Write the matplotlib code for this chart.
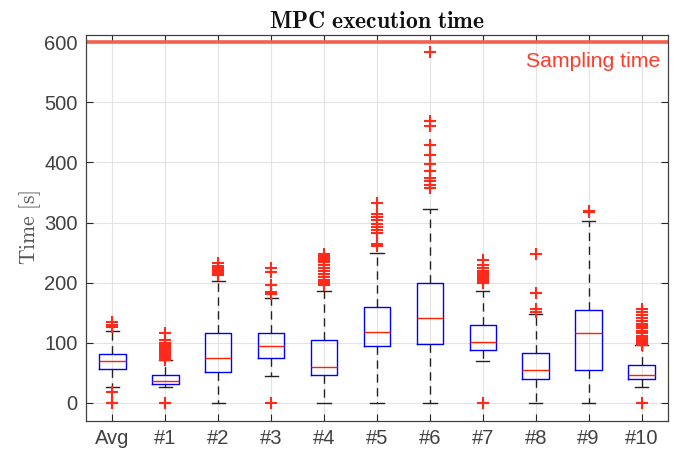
import matplotlib
matplotlib.use("Agg")
import matplotlib.pyplot as plt

plt.rcParams['mathtext.fontset'] = 'cm'
plt.rcParams['font.family'] = ['Liberation Sans', 'DejaVu Sans']

labels = ["Avg", "#1", "#2", "#3", "#4", "#5", "#6", "#7", "#8", "#9", "#10"]
whislo = [26, 27, 0, 45, 0, 0, 0, 70, 0, 0, 26]
q1 = [57, 31, 52, 75, 47, 94, 98, 88, 40, 54, 40]
med = [69, 37, 74, 94, 60, 118, 142, 101, 55, 116, 47]
q3 = [81, 47, 116, 116, 105, 160, 199, 129, 83, 155, 63]
whishi = [119, 71, 203, 175, 186, 250, 322, 187, 148, 302, 97]
fliers = [
    [0, 0, 19, 126, 130, 134],
    [0, 0, 72, 74, 76, 78, 80, 83, 85, 88, 90, 92, 95, 97, 100, 105, 117],
    [213, 216, 219, 222, 225, 228, 232],
    [0, 181, 184, 196, 218, 224],
    [196, 199, 202, 205, 210, 215, 220, 225, 230, 235, 238, 241, 244, 247],
    [261, 265, 282, 287, 293, 298, 304, 309, 315, 332],
    [357, 363, 369, 374, 386, 398, 412, 429, 460, 469, 584],
    [0, 199, 201, 203, 205, 208, 211, 214, 217, 220, 225, 230, 238],
    [151, 156, 183, 248],
    [318, 320],
    [0, 96, 99, 102, 105, 108, 112, 116, 120, 124, 128, 132, 137, 142, 147, 152, 157],
]
sampling_time = 600

stats = []
for i in range(len(labels)):
    stats.append(dict(label=labels[i], whislo=whislo[i], q1=q1[i], med=med[i],
                      q3=q3[i], whishi=whishi[i], fliers=fliers[i]))

fig = plt.figure(figsize=(6.75, 4.53), dpi=100)
ax = fig.add_axes([0.1274, 0.0713, 0.8622, 0.8514])

ax.bxp(stats, positions=range(1, len(labels) + 1), widths=0.5,
       boxprops=dict(color='#0000ff', linewidth=1.0),
       medianprops=dict(color='#ff2200', linewidth=1.0),
       whiskerprops=dict(color='#222222', linewidth=1.0, linestyle=(0, (6, 4))),
       capprops=dict(color='#222222', linewidth=1.0),
       flierprops=dict(marker='+', markeredgecolor='#ff2a1a', markersize=8,
                       markeredgewidth=1.5, linestyle='none'),
       capwidths=0.25, zorder=3)

ax.axhline(sampling_time, color='#f2614c', linewidth=2.6, zorder=2)
ax.text(11.36, 568, 'Sampling time', color='#ff3b2b', fontsize=15.3,
        ha='right', va='center')

ax.set_xlim(0.5, 11.5)
ax.set_ylim(-29.5, 612)
ax.set_yticks([0, 100, 200, 300, 400, 500, 600])
ax.set_xticks(range(1, len(labels) + 1))
ax.set_xticklabels(labels)
ax.tick_params(axis='both', direction='in', top=True, right=True,
               labelsize=14.5, colors='#262626', labelcolor='#404040',
               length=5, width=0.8, pad=6)
ax.grid(True, color='#e3e3e3', linewidth=0.8, zorder=0)
ax.set_axisbelow(True)
for s in ax.spines.values():
    s.set_color('#404040')
    s.set_linewidth(0.9)

ax.set_title(r'$\mathbf{MPC\ execution\ time}$', fontsize=17, color='#111111', pad=5)
ax.set_ylabel(r'$\mathrm{Time\ [s]}$', fontsize=15.5, color='#555555', labelpad=1)

fig.savefig('out.png', dpi=100)
